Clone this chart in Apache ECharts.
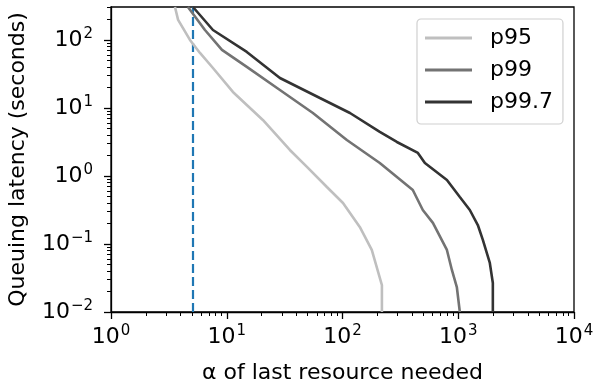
<!DOCTYPE html>
<html>
<head>
<meta charset="utf-8">
<script src="https://cdn.jsdelivr.net/npm/echarts@6/dist/echarts.min.js"></script>
<style>html,body{margin:0;padding:0;background:#fff;}#c{width:593px;height:383px;}</style>
</head>
<body>
<div id="c"></div>
<script>
// ---- data ----
const seriesNames = ['p95', 'p99', 'p99.7'];
const p95Alpha   = [3.57, 3.80, 4.81, 5.87, 7.60, 11.3, 20.5, 35.1, 49.3, 73.3, 101, 141, 179, 219, 219];
const p95Latency = [305, 197, 100, 64.4, 38.7, 17.2, 6.66, 2.41, 1.36, 0.689, 0.401, 0.178, 0.0817, 0.0249, 0.01];
const p99Alpha   = [4.62, 6.48, 9.09, 14.9, 28.8, 55.5, 109, 210, 405, 494, 604, 798, 881, 972, 1032];
const p99Latency = [305, 140, 71.3, 40.1, 18.4, 8.43, 3.38, 1.55, 0.622, 0.316, 0.204, 0.0817, 0.0415, 0.0233, 0.01];
const p997Alpha   = [5.11, 7.60, 14.9, 28.8, 63.8, 116, 210, 295, 448, 515, 798, 1032, 1259, 1476, 1631, 1874, 1990, 1990];
const p997Latency = [305, 140, 66.7, 27.6, 14.0, 8.43, 4.44, 3.16, 2.18, 1.55, 0.873, 0.491, 0.316, 0.190, 0.115, 0.0526, 0.0267, 0.01];
const markerAlpha = 5.1;
const xTickExponents = [0, 1, 2, 3, 4];
const yTickExponents = [-2, -1, 0, 1, 2];
const xRange = [1, 10000];
const yRange = [0.01, 305];

// ---- helpers ----
const lg = Math.log10;
const pairs = (xs, ys) => xs.map((x, i) => [lg(x), lg(ys[i])]);
function minorTicks(lo, hi) {
  const out = [];
  for (let d = Math.floor(lo); d < hi; d++) {
    for (let k = 2; k <= 9; k++) {
      const v = d + lg(k);
      if (v > lo && v < hi) out.push(v);
    }
  }
  return out;
}
const supFmt = v => {
  const e = Math.round(v);
  return '{b|10}{s|' + (e < 0 ? '\u2212' + (-e) : e) + '}';
};
const FONT = 'DejaVu Sans';
const rich = {
  b: { fontFamily: FONT, fontSize: 22, color: '#000', lineHeight: 26 },
  s: { fontFamily: FONT, fontSize: 15, color: '#000', lineHeight: 26, verticalAlign: 'top', padding: [0, 0, 10, 1] }
};
const xMin = lg(xRange[0]), xMax = lg(xRange[1]);
const yMin = lg(yRange[0]), yMax = lg(yRange[1]);
const colors = ['#bfbfbf', '#737373', '#333333'];
const lineW = 2.6;

const chart = echarts.init(document.getElementById('c'), null, { renderer: 'canvas' });
const axisLineStyle = { color: '#000', width: 1.3 };

chart.setOption({
  animation: false,
  backgroundColor: '#fff',
  grid: { left: 111, right: 19, top: 7, bottom: 71, show: true, borderColor: '#000', borderWidth: 1.3, containLabel: false, outerBoundsMode: 'none' },
  legend: {
    data: seriesNames,
    orient: 'vertical',
    left: 417, top: 19,
    padding: [6, 10, 9, 8],
    itemGap: 6,
    itemWidth: 47, itemHeight: 3,
    icon: 'rect',
    backgroundColor: '#fff',
    borderColor: '#d0d0d0', borderWidth: 1.2, borderRadius: 4,
    textStyle: { fontFamily: FONT, fontSize: 22, color: '#000', lineHeight: 26, padding: [0, 0, 0, 13] }
  },
  xAxis: [{
    type: 'value', min: xMin, max: xMax,
    name: '\u03b1 of last resource needed', nameLocation: 'middle', nameGap: 50,
    nameTextStyle: { fontFamily: FONT, fontSize: 22, color: '#000' },
    axisLine: { show: true, onZero: false, lineStyle: axisLineStyle },
    axisTick: { show: true, customValues: xTickExponents, length: 7, lineStyle: axisLineStyle },
    axisLabel: { customValues: xTickExponents, formatter: supFmt, rich: rich, margin: 12 },
    splitLine: { show: false }
  }, {
    type: 'value', min: xMin, max: xMax, position: 'bottom',
    axisLine: { show: false, onZero: false },
    axisTick: { show: true, customValues: minorTicks(xMin, xMax), length: 4, lineStyle: { color: '#000', width: 1 } },
    axisLabel: { show: false },
    splitLine: { show: false }
  }],
  yAxis: [{
    type: 'value', min: yMin, max: yMax,
    name: 'Queuing latency (seconds)', nameLocation: 'middle', nameGap: 82,
    nameTextStyle: { fontFamily: FONT, fontSize: 22, color: '#000' },
    axisLine: { show: true, onZero: false, lineStyle: axisLineStyle },
    axisTick: { show: true, customValues: yTickExponents, length: 7, lineStyle: axisLineStyle },
    axisLabel: { customValues: yTickExponents, formatter: supFmt, rich: rich, margin: 18 },
    splitLine: { show: false }
  }, {
    type: 'value', min: yMin, max: yMax, position: 'left',
    axisLine: { show: false, onZero: false },
    axisTick: { show: true, customValues: minorTicks(yMin, yMax), length: 4, lineStyle: { color: '#000', width: 1 } },
    axisLabel: { show: false },
    splitLine: { show: false }
  }],
  series: [
    {
      name: seriesNames[0], type: 'line', xAxisIndex: 0, yAxisIndex: 0,
      data: pairs(p95Alpha, p95Latency), showSymbol: false, symbol: 'none', clip: true,
      color: colors[0], lineStyle: { color: colors[0], width: lineW }, z: 3,
      markLine: {
        silent: true, symbol: ['none', 'none'], label: { show: false },
        lineStyle: { color: '#1f77b4', type: [9, 4], width: 2.2 },
        data: [{ xAxis: lg(markerAlpha) }], z: 2
      }
    },
    {
      name: seriesNames[1], type: 'line', xAxisIndex: 0, yAxisIndex: 0,
      data: pairs(p99Alpha, p99Latency), showSymbol: false, symbol: 'none', clip: true,
      color: colors[1], lineStyle: { color: colors[1], width: lineW }, z: 4
    },
    {
      name: seriesNames[2], type: 'line', xAxisIndex: 0, yAxisIndex: 0,
      data: pairs(p997Alpha, p997Latency), showSymbol: false, symbol: 'none', clip: true,
      color: colors[2], lineStyle: { color: colors[2], width: lineW }, z: 5
    }
  ]
});
</script>
</body>
</html>
